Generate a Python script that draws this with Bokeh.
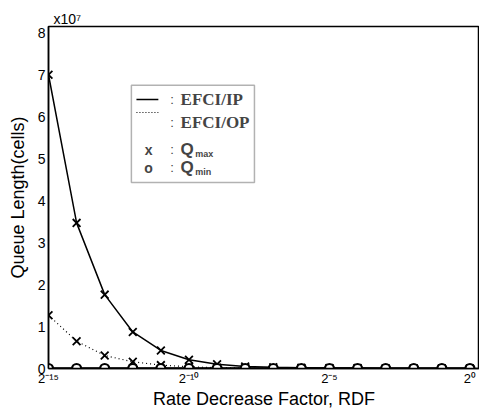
from bokeh.plotting import figure
from bokeh.models import Range1d, FixedTicker, BoxAnnotation, Label, Arrow, Title
from bokeh.embed import file_html
from bokeh.resources import INLINE

# RDF = 2**exponent
rdf_exp = [-15, -14, -13, -12, -11, -10, -9, -8, -7, -6, -5, -4, -3, -2, -1, 0]
# queue lengths in units of 1e7 cells
qmax_ip = [7.0, 3.47, 1.76, 0.87, 0.43, 0.21, 0.10, 0.05, 0.03, 0.02, 0.01, 0.01, 0.0, 0.0, 0.0, 0.0]
qmax_op = [1.27, 0.65, 0.31, 0.16, 0.08, 0.04, 0.02, 0.01, 0.0, 0.0, 0.0, 0.0, 0.0, 0.0, 0.0, 0.0]
qmin_ip = [0.0] * 16
qmin_op = [0.0] * 16

x_ticks = [-15, -10, -5, 0]
x_tick_labels = ["2\u207b\u00b9\u2075", "2\u207b\u00b9\u2070", "2\u207b\u2075", "2\u2070"]
y_ticks = [0, 1, 2, 3, 4, 5, 6, 7, 8]

FONT = "Liberation Sans"
SERIF = "Liberation Serif"

p = figure(width=479, height=411, output_backend="svg", toolbar_location=None,
           x_range=Range1d(-15, 0.34), y_range=Range1d(0, 8.15),
           min_border_left=48, min_border_right=0, min_border_top=26, min_border_bottom=41)
p.grid.visible = False
p.background_fill_color = "white"
p.border_fill_color = "white"
p.outline_line_color = "black"
p.outline_line_width = 1.5

# exponent label above the frame
p.add_layout(Title(text="x10\u2077", align="left", offset=5, standoff=0,
                   text_font=FONT, text_font_size="14px", text_font_style="normal",
                   text_color="black"), "above")

p.xaxis.ticker = FixedTicker(ticks=x_ticks)
p.xaxis.major_label_overrides = dict(zip(x_ticks, x_tick_labels))
p.yaxis.ticker = FixedTicker(ticks=y_ticks)
p.yaxis.major_label_overrides = {t: str(t) for t in y_ticks}
for ax in (p.xaxis[0], p.yaxis[0]):
    ax.axis_line_color = "black"
    ax.axis_line_width = 1.5
    ax.major_tick_out = 0
    ax.major_tick_in = 0
    ax.minor_tick_out = 0
    ax.minor_tick_in = 0
    ax.major_label_text_font = FONT
    ax.major_label_text_color = "black"
    ax.axis_label_text_font = FONT
    ax.axis_label_text_font_style = "normal"
    ax.axis_label_text_color = "black"
    ax.axis_label_text_font_size = "18px"
p.xaxis.major_label_text_font_size = "13px"
p.yaxis.major_label_text_font_size = "14px"
p.xaxis.major_label_standoff = 2
p.yaxis.major_label_standoff = 3
p.xaxis.axis_label = "Rate Decrease Factor, RDF"
p.yaxis.axis_label = "Queue Length(cells)"
p.xaxis.axis_label_standoff = 0
p.yaxis.axis_label_standoff = 7

# data
p.line(rdf_exp, qmax_ip, line_color="black", line_width=1.5)
p.line(rdf_exp, qmax_op, line_color="black", line_width=1.2, line_dash="1 3")
p.line(rdf_exp, qmin_ip, line_color="black", line_width=2.5)
p.line(rdf_exp, qmin_op, line_color="black", line_width=1.2, line_dash="1 3")
p.scatter(rdf_exp, qmax_ip, marker="x", size=11, line_color="black", line_width=1.8)
p.scatter(rdf_exp, qmax_op, marker="x", size=11, line_color="black", line_width=1.8)
p.scatter(rdf_exp, qmin_ip, marker="circle", size=9, line_color="black", line_width=2.2,
          fill_color="white")

# legend box (data coordinates)
p.add_layout(BoxAnnotation(left=-12.05, right=-7.67, bottom=4.43, top=6.75,
                           fill_color="white", fill_alpha=1, line_color="black", line_width=1.5))
p.add_layout(Arrow(end=None, x_start=-11.87, x_end=-11.09, y_start=6.41, y_end=6.41,
                   line_color="black", line_width=1.5))
p.add_layout(Arrow(end=None, x_start=-11.87, x_end=-11.09, y_start=6.10, y_end=6.10,
                   line_color="black", line_width=1.2, line_dash="1 2"))
p.add_layout(Label(x=-11.44, y=5.21, text="x", text_font=FONT, text_font_size="14px",
                   text_font_style="bold", text_align="center", text_baseline="middle"))
p.add_layout(Label(x=-11.44, y=4.78, text="o", text_font=FONT, text_font_size="14px",
                   text_font_style="bold", text_align="center", text_baseline="middle"))
for yy in (6.41, 5.87, 5.21, 4.78):
    p.add_layout(Label(x=-10.6, y=yy, text=":", text_font=FONT, text_font_size="13px",
                       text_align="center", text_baseline="middle", text_color="#444444"))
p.add_layout(Label(x=-10.3, y=6.41, text="EFCI/IP", text_font=SERIF, text_font_size="17px",
                   text_font_style="bold", text_baseline="middle"))
p.add_layout(Label(x=-10.3, y=5.87, text="EFCI/OP", text_font=SERIF, text_font_size="17px",
                   text_font_style="bold", text_baseline="middle"))
p.add_layout(Label(x=-10.3, y=5.21, text="Q", text_font=FONT, text_font_size="17px",
                   text_font_style="bold", text_baseline="middle"))
p.add_layout(Label(x=-9.78, y=5.12, text="max", text_font=FONT, text_font_size="9px",
                   text_font_style="bold", text_baseline="middle"))
p.add_layout(Label(x=-10.3, y=4.78, text="Q", text_font=FONT, text_font_size="17px",
                   text_font_style="bold", text_baseline="middle"))
p.add_layout(Label(x=-9.78, y=4.69, text="min", text_font=FONT, text_font_size="9px",
                   text_font_style="bold", text_baseline="middle"))

open("out.html", "w").write(file_html(p, INLINE))
